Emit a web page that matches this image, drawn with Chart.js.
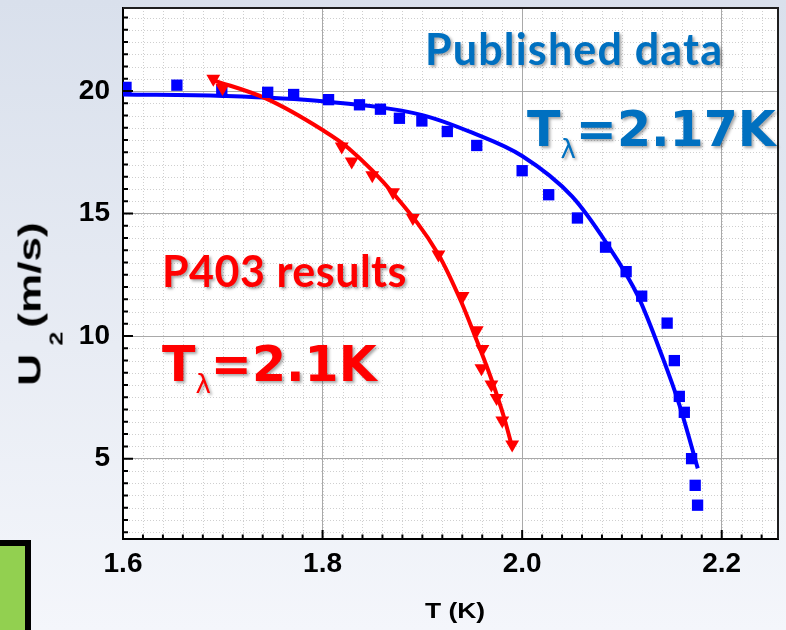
<!DOCTYPE html>
<html>
<head>
<meta charset="utf-8">
<script src="https://cdn.jsdelivr.net/npm/chart.js@4.4.1/dist/chart.umd.min.js"></script>
<style>
html, body { margin: 0; padding: 0; }
#slide {
    position: relative; width: 786px; height: 630px; overflow: hidden;
    background: linear-gradient(to bottom, #d9e0ec 0%, #e8ecf4 55%, #f4f6fb 100%);
}
#chart { position: absolute; left: 0; top: 0; }
.note { position: absolute; white-space: nowrap; line-height: 1; text-shadow: 2px 2px 3px rgba(0,0,0,0.35); }
.cal { font-family: Lato, "Open Sans", sans-serif; font-weight: 700; font-size: 43px; }
.tl { font-family: "DejaVu Sans", sans-serif; font-weight: 700; font-size: 49px; }
.tl sub { font-size: 26px; font-weight: 400; vertical-align: baseline; position: relative; top: 12px; }
.blue { color: #0070c0; }
.red { color: #ff0000; }
#ytitle {
    position: absolute; left: 30px; top: 304px; white-space: nowrap; line-height: 1;
    font: bold 32px "Liberation Sans", Arial, sans-serif; color: #000;
    transform: translate(-50%, -50%) rotate(-90deg) scaleX(1.38);
}
#ytitle sub { font-size: 18px; vertical-align: baseline; position: relative; top: 22px; margin-left: 6px; margin-right: -6px; }
#xtitle {
    position: absolute; left: 455px; top: 611px; white-space: nowrap; line-height: 1;
    font: bold 22px "Liberation Sans", Arial, sans-serif; color: #000;
    transform: translate(-50%, -50%) scaleX(1.2);
}
#greenbox {
    position: absolute; left: -10px; top: 540px; width: 29px; height: 120px;
    border: 6px solid #000; background: #92d050;
}
</style>
</head>
<body>
<div id="slide">
    <canvas id="chart" width="786" height="630"></canvas>
    <div class="note cal blue" style="left:425px; top:27px; letter-spacing:1.2px;">Published data</div>
    <div class="note tl blue" style="left:527px; top:105px;">T<sub>λ</sub>=2.17K</div>
    <div class="note cal red" style="left:162px; top:249px; letter-spacing:0.5px;">P403 results</div>
    <div class="note tl red" style="left:162px; top:340px;">T<sub>λ</sub>=2.1K</div>
    <div id="ytitle">U<sub>2</sub> (m/s)</div>
    <div id="xtitle">T (K)</div>
    <div id="greenbox"></div>
</div>
<script>
// Published data (squares)
const publishedT = [1.603, 1.654, 1.699, 1.745, 1.771, 1.806, 1.837, 1.858, 1.877, 1.8995, 1.925, 1.9545, 2.0, 2.0266, 2.0554, 2.0836, 2.1042, 2.1198, 2.1453, 2.1525, 2.1575, 2.1625, 2.1698, 2.1734, 2.1758];
const publishedU = [20.15, 20.24, 20.03, 19.95, 19.86, 19.65, 19.44, 19.26, 18.89, 18.78, 18.35, 17.78, 16.75, 15.77, 14.82, 13.63, 12.63, 11.63, 10.53, 9.0, 7.54, 6.89, 5.0, 3.91, 3.10];

// P403 results (triangles)
const p403T = [1.6905, 1.6997, 1.8192, 1.8292, 1.8498, 1.8706, 1.8905, 1.9161, 1.9403, 1.9545, 1.9602, 1.9592, 1.9692, 1.9744, 1.9801, 1.99];
const p403U = [20.5, 20.13, 17.74, 17.13, 16.56, 15.87, 14.82, 13.33, 11.64, 10.24, 9.47, 8.69, 8.03, 7.47, 6.56, 5.58];

// Fit curves
const publishedFitT = [1.6, 1.7, 1.8, 1.9, 1.95, 2.0, 2.05, 2.0836, 2.1161, 2.141, 2.1575, 2.176];
const publishedFitU = [19.86, 19.8, 19.58, 19.02, 18.3, 17.35, 15.7, 13.85, 11.63, 9.1, 7.2, 4.6];
const p403FitT = [1.69, 1.743, 1.80, 1.826, 1.872, 1.9161, 1.9386, 1.952, 1.9685, 1.9818, 1.99];
const p403FitU = [20.45, 19.7, 18.41, 17.67, 15.77, 13.33, 11.43, 10.08, 8.32, 6.69, 5.47];

// Axes
const xTicks = [1.6, 1.8, 2.0, 2.2];
const yTicks = [5, 10, 15, 20];
const xRange = [1.6, 2.2564];
const yRange = [1.72, 23.39];
const xMinorStep = 0.02;
const yMinorStep = 0.5;

const toXY = (xs, ys) => xs.map((v, i) => ({ x: v, y: ys[i] }));

function minorValues(scale, step) {
    const out = [];
    const start = Math.ceil(scale.min / step - 1e-9);
    for (let i = start; i * step <= scale.max + 1e-9; i++) out.push(i * step);
    return out;
}

// Fond blanc, grille pointillée, graduations intérieures et cadre
const framePlugin = {
    id: 'frame',
    beforeDraw(chart) {
        const { ctx, chartArea: a, scales: { x, y } } = chart;
        ctx.save();
        ctx.fillStyle = '#ffffff';
        ctx.fillRect(a.left, a.top, a.right - a.left, a.bottom - a.top);
        ctx.strokeStyle = '#cfcfcf';
        ctx.lineWidth = 1;
        ctx.setLineDash([1, 2]);
        ctx.beginPath();
        minorValues(x, xMinorStep).forEach(v => {
            const px = Math.round(x.getPixelForValue(v)) + 0.5;
            ctx.moveTo(px, a.top);
            ctx.lineTo(px, a.bottom);
        });
        minorValues(y, yMinorStep).forEach(v => {
            const py = Math.round(y.getPixelForValue(v)) + 0.5;
            ctx.moveTo(a.left, py);
            ctx.lineTo(a.right, py);
        });
        ctx.stroke();
        ctx.restore();
    },
    afterDraw(chart) {
        const { ctx, chartArea: a, scales: { x, y } } = chart;
        ctx.save();
        ctx.strokeStyle = '#000000';
        ctx.lineWidth = 2;
        ctx.beginPath();
        minorValues(x, xMinorStep).forEach(v => {
            const px = x.getPixelForValue(v);
            const major = xTicks.some(t => Math.abs(t - v) < 1e-6);
            ctx.moveTo(px, a.bottom);
            ctx.lineTo(px, a.bottom - (major ? 9 : 4.5));
        });
        minorValues(y, yMinorStep).forEach(v => {
            const py = y.getPixelForValue(v);
            const major = yTicks.some(t => Math.abs(t - v) < 1e-6);
            ctx.moveTo(a.left, py);
            ctx.lineTo(a.left + (major ? 10 : 5), py);
        });
        ctx.stroke();
        ctx.strokeStyle = '#1e1e1e';
        ctx.beginPath();
        ctx.moveTo(a.left, a.top);
        ctx.lineTo(a.right, a.top);
        ctx.lineTo(a.right, a.bottom);
        ctx.stroke();
        ctx.restore();
    }
};

const tickFont = { family: '"Liberation Sans", Arial, sans-serif', size: 28, weight: 'bold' };

// pas de marge automatique pour les étiquettes
function noPadding(s) {
    s.paddingTop = 0;
    s.paddingBottom = 0;
    s.paddingLeft = 0;
    s.paddingRight = 0;
}

new Chart(document.getElementById('chart'), {
    type: 'scatter',
    data: {
        datasets: [
            {
                label: 'P403 results',
                data: toXY(p403T, p403U),
                pointStyle: 'triangle',
                pointRotation: 180,
                pointRadius: 8,
                pointBackgroundColor: '#ff0000',
                pointBorderWidth: 0
            },
            {
                label: 'Published data',
                data: toXY(publishedT, publishedU),
                pointStyle: 'rect',
                pointRadius: 8,
                pointBackgroundColor: '#0000ff',
                pointBorderWidth: 0
            },
            {
                label: 'P403 fit',
                data: toXY(p403FitT, p403FitU),
                showLine: true,
                borderColor: '#ff0000',
                borderWidth: 4,
                pointRadius: 0,
                cubicInterpolationMode: 'monotone'
            },
            {
                label: 'Published fit',
                data: toXY(publishedFitT, publishedFitU),
                showLine: true,
                borderColor: '#0000ff',
                borderWidth: 4,
                pointRadius: 0,
                cubicInterpolationMode: 'monotone'
            }
        ]
    },
    options: {
        responsive: false,
        animation: false,
        layout: { padding: { top: 6, right: 3, left: 0, bottom: 0 } },
        plugins: { legend: { display: false }, tooltip: { enabled: false } },
        scales: {
            x: {
                type: 'linear',
                min: xRange[0],
                max: xRange[1],
                afterBuildTicks: s => { s.ticks = xTicks.map(v => ({ value: v })); },
                afterFit: s => { s.height = 91; noPadding(s); },
                grid: { color: '#a9a9a9', lineWidth: 1, drawTicks: false },
                border: { color: '#000000', width: 2 },
                ticks: {
                    padding: 8, color: '#000000', font: tickFont,
                    maxRotation: 0, autoSkip: false,
                    callback: v => v.toFixed(1)
                }
            },
            y: {
                type: 'linear',
                min: yRange[0],
                max: yRange[1],
                afterBuildTicks: s => { s.ticks = yTicks.map(v => ({ value: v })); },
                afterFit: s => { s.width = 123; noPadding(s); },
                grid: { color: '#a9a9a9', lineWidth: 1, drawTicks: false },
                border: { color: '#000000', width: 2 },
                ticks: {
                    padding: 13, color: '#000000', font: tickFont,
                    autoSkip: false,
                    callback: v => String(v)
                }
            }
        }
    },
    plugins: [framePlugin]
});
</script>
</body>
</html>
